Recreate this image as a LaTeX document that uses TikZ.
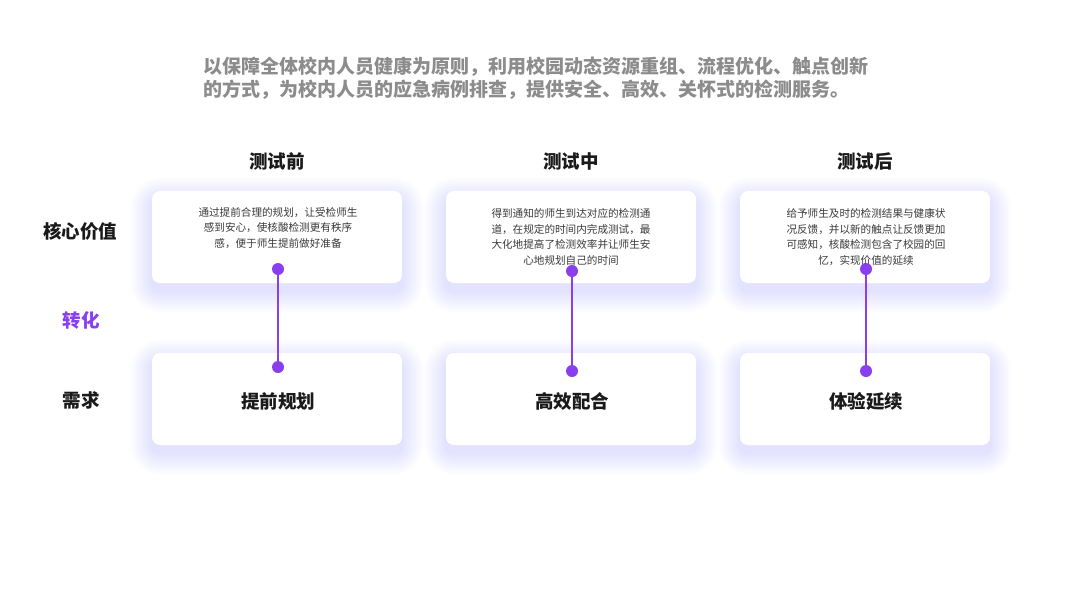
\documentclass[tikz,border=0pt]{standalone}
\usepackage{fontspec}
\setmainfont{Noto Sans CJK SC}
\usetikzlibrary{positioning,backgrounds}
\definecolor{accent}{HTML}{8A3FEF}
\definecolor{glowc}{HTML}{A68CFF}
\definecolor{inkc}{HTML}{1A1A1A}
\definecolor{bodyc}{HTML}{3A3A3A}
\definecolor{leadc}{HTML}{8C8C8C}
\tikzset{
  card/.style={
    shape = rectangle,
    fill = white,
    rounded corners = 8pt,
    minimum width = 250pt,
    minimum height = 92pt,
    inner sep = 0pt
  },
  dot/.style={
    shape = circle,
    fill = accent,
    minimum size = 12pt,
    inner sep = 0pt
  },
  link/.style={
    draw = accent,
    line width = 2.5pt
  },
  head/.style={
    font = \fontsize{18.5}{20}\selectfont\bfseries,
    text = inkc,
    inner sep = 0pt
  },
  body/.style={
    font = \fontsize{10.6}{15.4}\selectfont,
    text = bodyc,
    align = center,
    inner sep = 0pt
  }
}
\begin{document}
\begin{tikzpicture}[x=1pt,y=-1pt]
        \useasboundingbox (0,0) rectangle (1067,600);
        % lead text
        \node[anchor=north west, align=left, inner sep=0pt, text=leadc,
              font=\fontsize{19}{22.4}\selectfont\bfseries] (lead) at (203,57)
              {以保障全体校内人员健康为原则，利用校园动态资源重组、流程优化、触点创新\\的方式，为校内人员的应急病例排查，提供安全、高效、关怀式的检测服务。};
        % column heads
        \node[head] (h1) at (277,161) {测试前};
        \node[head] (h2) at (571,161) {测试中};
        \node[head] (h3) at (865,161) {测试后};
        % row labels
        \node[head] (r1) at (80,231) {核心价值};
        \node[head, text=accent] (r2) at (81,320) {转化};
        \node[head] (r3) at (81,400) {需求};
        % cards
        \node[card] (v1) at (277,237) {};
        \node[card] (v2) at (571,237) {};
        \node[card] (v3) at (865,237) {};
        \node[card] (n1) at (277,399) {};
        \node[card] (n2) at (571,399) {};
        \node[card] (n3) at (865,399) {};
        \begin{scope}[on background layer]
          \fill[white] (0,0) rectangle (1067,600);
          \foreach \c in {v1,v2,v3,n1,n2,n3}{
            \foreach \i in {1,...,14}{
              \pgfmathsetmacro\rr{8+1.5*\i}
              \fill[glowc, opacity=0.015, rounded corners=\rr pt]
                ([xshift=-\i pt*1.5, yshift=\i pt*1.5-8pt]\c.north west)
                rectangle ([xshift=\i pt*1.5, yshift=-\i pt*1.5-8pt]\c.south east);
            }
          }
        \end{scope}
        \node[body] (t1) at (278,228) {通过提前合理的规划，让受检师生\\感到安心，使核酸检测更有秩序\\感，便于师生提前做好准备};
        \node[body] (t2) at (571,237) {得到通知的师生到达对应的检测通\\道，在规定的时间内完成测试，最\\大化地提高了检测效率并让师生安\\心地规划自己的时间};
        \node[body] (t3) at (866,237) {给予师生及时的检测结果与健康状\\况反馈，并以新的触点让反馈更加\\可感知，核酸检测包含了校园的回\\忆，实现价值的延续};
        \node[head] (b1) at (278,401) {提前规划};
        \node[head] (b2) at (572,401) {高效配合};
        \node[head] (b3) at (866,401) {体验延续};
        % connectors
        \node[dot] (p1) at (278,269) {};
        \node[dot] (q1) at (278,367) {};
        \node[dot] (p2) at (572,271) {};
        \node[dot] (q2) at (572,371) {};
        \node[dot] (p3) at (866,269) {};
        \node[dot] (q3) at (866,371) {};
        \draw[link] (p1) -- (q1);
        \draw[link] (p2) -- (q2);
        \draw[link] (p3) -- (q3);
\end{tikzpicture}
\end{document}
